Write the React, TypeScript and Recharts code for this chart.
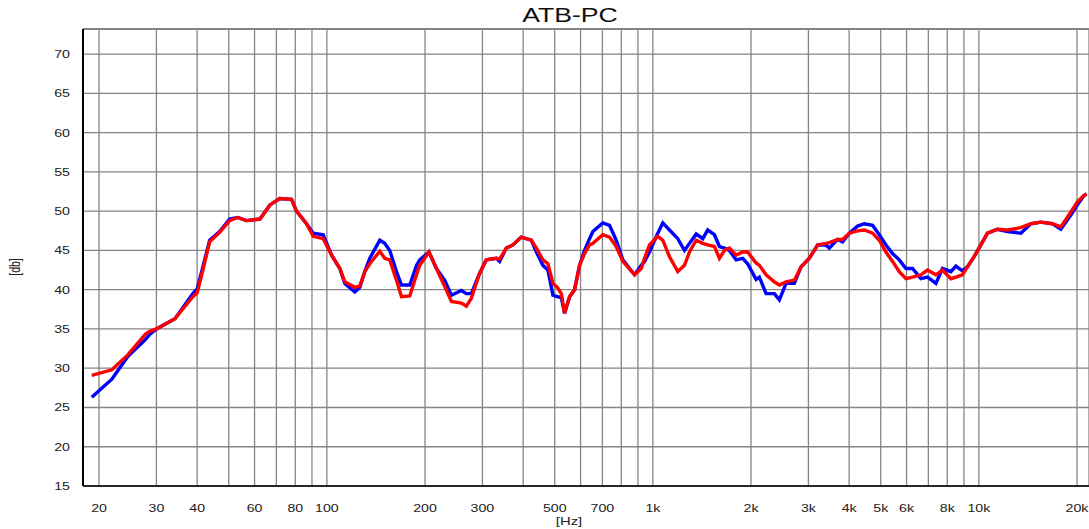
import { CartesianGrid, Line, LineChart, ReferenceLine, XAxis, YAxis } from "recharts";

// frequency points (Hz)
const freqs = [
	19, 21.9, 24.5, 27.7, 28.6, 30, 34.2, 38.8, 40, 41.7, 43.7, 46.9, 50.3, 53.3, 56.6, 62.3, 66.9, 71.7, 77.9, 80.7,
	86.6, 90.8, 97.4, 103.4, 109.6, 113.5, 121.8, 126.2, 130.7, 135.4, 145.3, 150.5, 155.9, 163.5, 169.4, 179.6, 188.3,
	192.7, 205.7, 216.8, 229.9, 241, 258.6, 267.8, 277.4, 294.2, 308.4, 331, 338.8, 355.2, 372.1, 394.8, 423.9, 439.1,
	459.9, 476.5, 493.6, 511.3, 523.7, 535.9, 555.2, 575.2, 595.8, 617.2, 639.4, 654.6, 702, 736.2, 771.9, 808.7, 878.8,
	921.1, 942.8, 976.6, 1035.5, 1072.7, 1124.6, 1192.5, 1250.2, 1295, 1357.6, 1422.5, 1473.5, 1544.7, 1600.1, 1657.7,
	1717.2, 1800.2, 1886, 1953.3, 2073, 2122, 2224.6, 2358.8, 2443.5, 2561.5, 2716.4, 2847.7, 3019.9, 3201.9, 3397,
	3477.7, 3687.2, 3819.5, 4004.9, 4246.1, 4451.4, 4720.5, 4948.7, 5187.9, 5436.1, 5698.8, 5974.2, 6260, 6641.6, 6958,
	7383.5, 7735, 8207, 8501, 8905, 9224, 9669, 10144, 10627, 11402, 12238, 13450, 14436, 15490, 16818, 17844, 19150,
	20055, 21025, 21400,
];

const blueDb = [
	26.3, 28.6, 31.5, 33.6, 34.3, 35.0, 36.3, 39.5, 40.1, 43.0, 46.3, 47.4, 49.0, 49.2, 48.8, 49.0, 50.8, 51.6, 51.5, 50.0,
	48.4, 47.2, 47.0, 44.4, 42.7, 40.8, 39.7, 40.3, 42.3, 44.0, 46.3, 45.9, 45.0, 42.3, 40.6, 40.6, 43.1,
	43.8, 44.8, 42.7, 41.2, 39.3, 39.9, 39.5, 39.5, 42.1, 43.8, 44.0, 43.6, 45.3, 45.7, 46.7, 46.3, 44.8,
	43.1, 42.5, 39.3, 39.1, 39.0, 37.0, 39.1, 40.0, 43.1, 45.0, 46.5, 47.4, 48.5, 48.2, 46.3, 43.8, 41.9,
	43.1, 43.6, 44.8, 47.2, 48.5, 47.6, 46.5, 45.0, 45.9, 47.1, 46.5, 47.6, 47.0, 45.5, 45.3,
	45.0, 43.8, 44.0, 43.3, 41.3, 41.6, 39.5, 39.5, 38.7, 40.8, 40.8, 42.9, 44.0, 45.7, 45.7,
	45.3, 46.4, 46.1, 47.2, 48.1, 48.4, 48.2, 47.0, 45.7, 44.6, 43.8, 42.7, 42.7, 41.4, 41.6,
	40.8, 42.7, 42.3, 43.0, 42.4, 42.9, 44.2, 45.7, 47.2, 47.7, 47.4, 47.2, 48.4, 48.6, 48.4, 47.7, 49.5,
	50.8, 52.0, 52.2,
];

const redDb = [
	29.1, 29.8, 31.7, 34.3, 34.7, 35.0, 36.3, 39.1, 39.6, 42.6, 46.1, 47.3, 48.8, 49.2, 48.8, 49.0, 50.8, 51.6, 51.5, 50.0,
	48.4, 46.8, 46.5, 44.4, 42.7, 41.0, 40.3, 40.5, 42.3, 43.3, 44.9, 44.0, 43.8, 41.2, 39.1, 39.2, 41.9,
	43.1, 44.8, 42.7, 40.4, 38.5, 38.3, 37.9, 38.9, 42.1, 43.8, 44.0, 43.9, 45.3, 45.7, 46.7, 46.3, 45.3,
	43.8, 43.3, 40.8, 40.2, 39.5, 37.0, 39.1, 40.0, 43.1, 44.6, 45.7, 45.9, 47.0, 46.7, 45.5, 43.6, 41.9,
	42.7, 44.0, 45.7, 46.8, 46.3, 44.2, 42.3, 43.1, 44.8, 46.3, 45.9, 45.7, 45.5, 44.0, 45.0,
	45.3, 44.4, 44.8, 44.8, 43.4, 43.1, 41.9, 41.0, 40.6, 41.0, 41.2, 42.9, 44.0, 45.7, 45.9,
	46.0, 46.4, 46.4, 47.2, 47.5, 47.6, 47.2, 46.3, 44.8, 43.6, 42.3, 41.4, 41.6, 41.9, 42.5,
	41.9, 42.5, 41.4, 41.6, 41.9, 42.9, 44.2, 45.7, 47.2, 47.7, 47.6, 47.9, 48.4, 48.6, 48.4, 48.0, 49.9,
	51.2, 52.0, 52.2,
];

const xTicks = [
	20, 30, 40, 50, 60, 70, 80, 90, 100, 200, 300, 400, 500, 600, 700, 800, 900, 1000, 2000, 3000, 4000, 5000, 6000,
	7000, 8000, 9000, 10000, 20000,
];
const xLabels = [20, 30, 40, 60, 80, 100, 200, 300, 500, 700, 1000, 2000, 3000, 4000, 5000, 6000, 8000, 10000, 20000];
const yTicks = [15, 20, 25, 30, 35, 40, 45, 50, 55, 60, 65, 70];

const data = freqs.map((f, i) => ({ f, blue: blueDb[i], red: redDb[i] }));

const FONT = "'Liberation Sans', Arial, sans-serif";
const STRETCH = 1.35;

const fmtHz = (v: number) => (v >= 1000 ? `${v / 1000}k` : `${v}`);

const XTick = ({ x, y, payload }: any) => {
	if (!xLabels.includes(payload.value)) return <g />;
	return (
		<g transform={`translate(${x},${y + 25.5}) scale(${STRETCH},1)`}>
			<text x={0} y={0} textAnchor="middle" fontSize={10.5} fill="#222" fontFamily={FONT}>
				{fmtHz(payload.value)}
			</text>
		</g>
	);
};

const YTick = ({ x, y, payload }: any) => (
	<g transform={`translate(${x - 13},${y + 4}) scale(${STRETCH},1)`}>
		<text x={0} y={0} textAnchor="end" fontSize={10.5} fill="#222" fontFamily={FONT}>
			{payload.value}
		</text>
	</g>
);

export default function App() {
	return (
		<div style={{ position: "absolute", left: 0, top: 0, width: 1089, height: 529, background: "#fff", overflow: "hidden" }}>
			<div
				style={{
					position: "absolute",
					left: 470,
					top: 5,
					width: 200,
					textAlign: "center",
					fontFamily: FONT,
					fontSize: 20,
					lineHeight: "20px",
					color: "#111",
					transform: `scaleX(1.33)`,
				}}
			>
				ATB-PC
			</div>
			<LineChart width={1089} height={529} data={data} margin={{ top: 29, right: 0, bottom: 0, left: 0 }}>
				<CartesianGrid stroke="#858585" strokeWidth={1.3} />
				<ReferenceLine y={73.2} stroke="#858585" strokeWidth={2} />
				<XAxis
					dataKey="f"
					type="number"
					scale="log"
					domain={[17.86, 21770]}
					allowDataOverflow
					ticks={xTicks}
					interval={0}
					height={43}
					tickLine={false}
					tickSize={0}
					tickMargin={0}
					tick={<XTick />}
					axisLine={{ stroke: "#000", strokeWidth: 1.5 }}
				/>
				<YAxis
					type="number"
					domain={[15, 73.2]}
					allowDataOverflow
					ticks={yTicks}
					interval={0}
					width={83}
					tickLine={false}
					tickSize={0}
					tickMargin={0}
					tick={<YTick />}
					axisLine={{ stroke: "#000", strokeWidth: 2 }}
				/>
				<Line type="linear" dataKey="blue" stroke="#0000ff" strokeWidth={3.4} dot={false} isAnimationActive={false} />
				<Line type="linear" dataKey="red" stroke="#ff0000" strokeWidth={3.4} dot={false} isAnimationActive={false} />
			</LineChart>
			<div
				style={{
					position: "absolute",
					left: 519,
					top: 515,
					width: 100,
					textAlign: "center",
					fontFamily: FONT,
					fontSize: 11,
					lineHeight: "12px",
					color: "#222",
					transform: `scaleX(${STRETCH})`,
				}}
			>
				[Hz]
			</div>
			<div
				style={{
					position: "absolute",
					left: 15,
					top: 267,
					fontFamily: FONT,
					fontSize: 10.5,
					lineHeight: "12px",
					color: "#222",
					whiteSpace: "nowrap",
					transform: `translate(-50%,-50%) rotate(-90deg) scaleY(${STRETCH})`,
				}}
			>
				[db]
			</div>
		</div>
	);
}
